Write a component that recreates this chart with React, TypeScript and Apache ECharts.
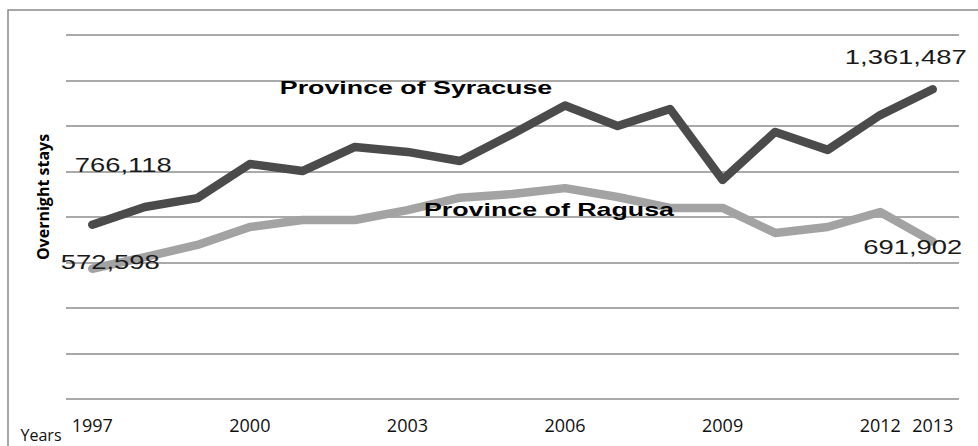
import React, { useEffect, useRef } from "react";
import * as echarts from "echarts";

// Overnight stays per year, 1997–2013
const years = [
  "1997", "1998", "1999", "2000", "2001", "2002", "2003", "2004", "2005",
  "2006", "2007", "2008", "2009", "2010", "2011", "2012", "2013",
];
const syracuse = [
  766118, 844000, 883000, 1033000, 1002000, 1108000, 1086000, 1046000, 1165000,
  1290000, 1200000, 1275000, 963000, 1174000, 1095000, 1248000, 1361487,
];
const ragusa = [
  572598, 624000, 677000, 756000, 787000, 787000, 830000, 885000, 901000,
  927000, 888000, 840000, 840000, 730000, 756000, 822000, 691902,
];
const seriesNames = ["Province of Syracuse", "Province of Ragusa"];
const yMax = 1600000;
const yStep = 200000;
const labelledYears = ["1997", "2000", "2003", "2006", "2009", "2012", "2013"];

const fmt = (v: number) => v.toLocaleString("en-US");

export default function App() {
  const ref = useRef<HTMLDivElement>(null);

  useEffect(() => {
    if (!ref.current) return;
    const chart = echarts.init(ref.current, undefined, { renderer: "svg" });

    chart.setOption({
      animation: false,
      backgroundColor: "#ffffff",
      grid: { left: 66, right: 19, top: 35, bottom: 47, containLabel: false },
      xAxis: {
        type: "category",
        data: years,
        boundaryGap: true,
        axisLine: { show: false },
        axisTick: { show: false },
        axisLabel: {
          interval: 0,
          formatter: (v: string) => (labelledYears.includes(v) ? v : ""),
          fontFamily: "Open Sans",
          fontSize: 18,
          color: "#111",
          margin: 17,
        },
      },
      yAxis: {
        type: "value",
        min: 0,
        max: yMax,
        interval: yStep,
        axisLabel: { show: false },
        axisLine: { show: false },
        axisTick: { show: false },
        splitLine: { lineStyle: { color: "#8c8c8c", width: 1.5 } },
      },
      series: [
        {
          name: seriesNames[0],
          type: "line",
          data: syracuse,
          showSymbol: false,
          symbol: "none",
          lineStyle: { color: "#4b4b4b", width: 8.5, cap: "round", join: "round" },
          z: 3,
        },
        {
          name: seriesNames[1],
          type: "line",
          data: ragusa,
          showSymbol: false,
          symbol: "none",
          lineStyle: { color: "#a3a3a3", width: 8.5, cap: "round", join: "round" },
          z: 2,
        },
      ],
    });

    // value labels at the first and last year of each series
    const last = years.length - 1;
    const valueLabels = [
      { s: 0, i: 0, v: syracuse[0], dx: 31, dy: -60 },
      { s: 1, i: 0, v: ragusa[0], dx: 18, dy: -7 },
      { s: 0, i: last, v: syracuse[last], dx: -27, dy: -32 },
      { s: 1, i: last, v: ragusa[last], dx: -20, dy: 5 },
    ].map((l, k) => {
      const p = chart.convertToPixel({ seriesIndex: l.s }, [l.i, l.v]) as number[];
      return {
        type: "text",
        id: "val" + k,
        x: p[0] + l.dx,
        y: p[1] + l.dy,
        scaleX: 1.37,
        z: 10,
        style: {
          text: fmt(l.v),
          x: 0,
          y: 0,
          align: "center",
          verticalAlign: "middle",
          fontFamily: "Liberation Sans, Arial, sans-serif",
          fontSize: 20,
          fill: "#1a1a1a",
        },
      };
    });

    chart.setOption({
      graphic: [
        {
          type: "rect",
          id: "frame",
          shape: { x: 8, y: 10, width: 1000, height: 460 },
          style: { fill: "none", stroke: "#8a8a8a", lineWidth: 1.5 },
          z: 1,
        },
        {
          type: "text",
          id: "nameSyr",
          x: 416,
          y: 87,
          scaleX: 1.41,
          z: 10,
          style: {
            text: seriesNames[0],
            x: 0,
            y: 0,
            align: "center",
            verticalAlign: "middle",
            fontFamily: "Liberation Sans, Arial, sans-serif",
            fontWeight: "bold",
            fontSize: 19,
            fill: "#000",
          },
        },
        {
          type: "text",
          id: "nameRag",
          x: 549,
          y: 209,
          scaleX: 1.41,
          z: 10,
          style: {
            text: seriesNames[1],
            x: 0,
            y: 0,
            align: "center",
            verticalAlign: "middle",
            fontFamily: "Liberation Sans, Arial, sans-serif",
            fontWeight: "bold",
            fontSize: 19,
            fill: "#000",
          },
        },
        {
          type: "text",
          id: "yName",
          x: 43,
          y: 197,
          rotation: Math.PI / 2,
          z: 10,
          style: {
            text: "Overnight stays",
            x: 0,
            y: 0,
            align: "center",
            verticalAlign: "middle",
            fontFamily: "Open Sans",
            fontWeight: "bold",
            fontSize: 16,
            fill: "#000",
          },
        },
        {
          type: "text",
          id: "xName",
          x: 41,
          y: 435,
          z: 10,
          style: {
            text: "Years",
            x: 0,
            y: 0,
            align: "center",
            verticalAlign: "middle",
            fontFamily: "Open Sans",
            fontSize: 16,
            fill: "#111",
          },
        },
        ...valueLabels,
      ],
    });

    return () => chart.dispose();
  }, []);

  return (
    <div
      ref={ref}
      style={{ position: "fixed", left: 0, top: 0, width: 978, height: 446 }}
    />
  );
}
